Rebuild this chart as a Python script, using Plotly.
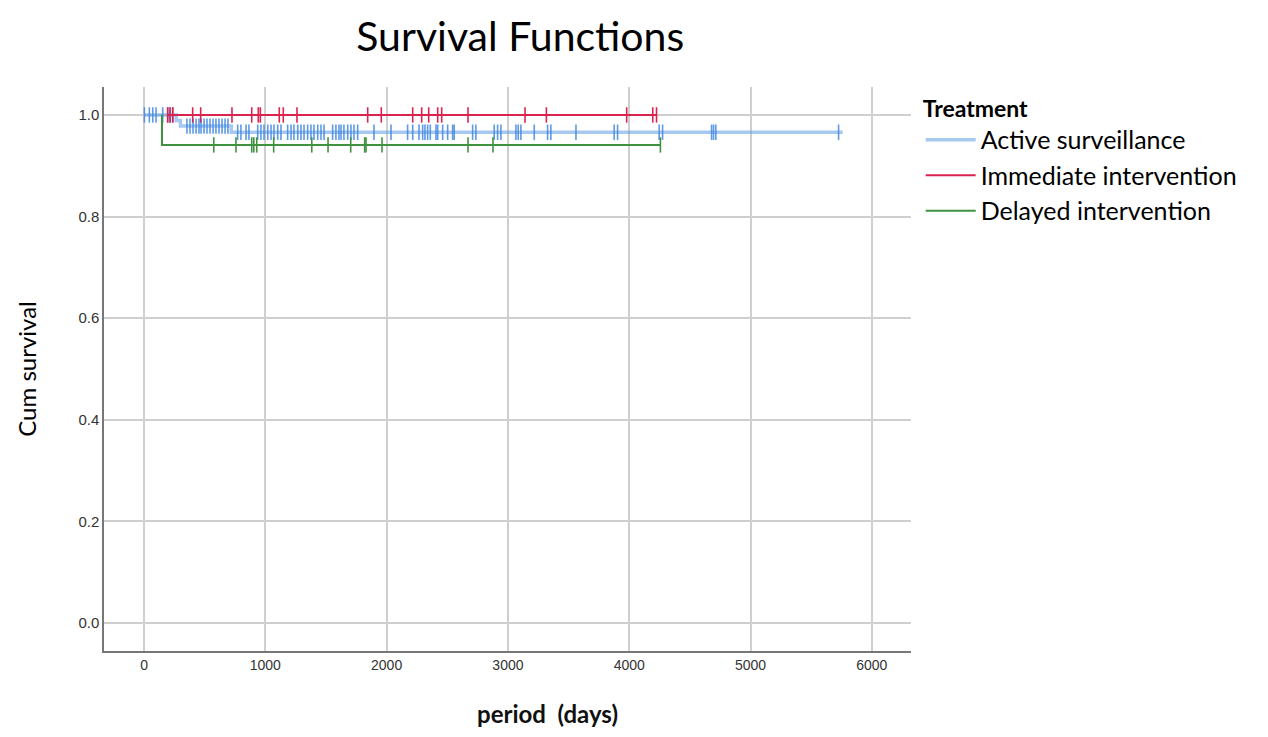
import numpy as np
import plotly.graph_objects as go

# Kaplan-Meier survival by treatment
groups = ["Active surveillance", "Immediate intervention", "Delayed intervention"]
colors = ["rgba(95,155,228,0.55)", "#dc2350", "#3f923f"]
tick_colors = ["rgba(65,135,225,0.85)", "#dc2350", "#3f923f"]

# Active surveillance
as_start = 0
as_end = 5760
as_event_days = [265, 300, 720]
as_surv = [0.989, 0.978, 0.966]
as_censor_days = [3, 44, 72, 99, 154, 195, 217, 237,
                  354, 379, 404, 429, 453, 470, 495, 519, 544, 569, 593, 618, 643, 668, 692,
                  772, 799, 841, 865, 937, 964, 989, 1020, 1047, 1071, 1102, 1129,
                  1184, 1212, 1236, 1267, 1294, 1319, 1349, 1376, 1401, 1432, 1459, 1484,
                  1555, 1582, 1607, 1624, 1648, 1679, 1706, 1731, 1761, 1896, 2036, 2173, 2215, 2267,
                  2297, 2316, 2338, 2360, 2407, 2421, 2462, 2503, 2544, 2557, 2709, 2736,
                  2887, 2915, 2942, 3066, 3085, 3107, 3217, 3327, 3354, 3561, 3876, 3904,
                  4247, 4275, 4679, 4695, 4714, 5726]

# Immediate intervention
ii_start = 195
ii_end = 4230
ii_event_days = []
ii_surv = []
ii_censor_days = [195, 214, 237, 401, 467, 725, 888, 942, 959, 1115, 1148, 1261,
                  1844, 1956, 2215, 2289, 2347, 2421, 2454, 2671, 3141, 3317, 3979, 4194, 4225]

# Delayed intervention
di_start = 148
di_end = 4262
di_event_days = [148]
di_surv = [0.941]
di_censor_days = [575, 758, 888, 905, 929, 1069, 1383, 1517, 1704, 1819, 1830,
                  1962, 2671, 2877, 4257]

x_ticks = [0, 1000, 2000, 3000, 4000, 5000, 6000]
y_ticks = [0.0, 0.2, 0.4, 0.6, 0.8, 1.0]


def step_value(t, event_days, surv):
    i = np.searchsorted(event_days, t, side="right")
    return 1.0 if i == 0 else surv[i - 1]


fig = go.Figure()
series = [
    (as_start, as_end, as_event_days, as_surv, as_censor_days),
    (ii_start, ii_end, ii_event_days, ii_surv, ii_censor_days),
    (di_start, di_end, di_event_days, di_surv, di_censor_days),
]
for k, (start, end, ev, sv, cens) in enumerate(series):
    xs = [start] + list(ev) + [end]
    ys = [1.0] + list(sv) + [sv[-1] if sv else 1.0]
    width = 3.5 if k == 0 else 2
    fig.add_trace(go.Scatter(x=xs, y=ys, mode="lines", line_shape="hv",
                             line=dict(color=colors[k], width=width),
                             name=groups[k], legendgroup=groups[k]))
    cy = [step_value(t, ev, sv) for t in cens]
    fig.add_trace(go.Scatter(x=cens, y=cy, mode="markers", showlegend=False,
                             legendgroup=groups[k], hoverinfo="skip",
                             marker=dict(symbol="line-ns-open", size=11, color=tick_colors[k],
                                         line=dict(color=tick_colors[k], width=1.6))))

fig.update_layout(
    width=1268, height=737,
    margin=dict(l=96, r=365, t=79, b=94),
    plot_bgcolor="white", paper_bgcolor="white",
    title=dict(text="Survival Functions", x=0.404, xref="container", xanchor="center",
               y=0.961, yref="container", yanchor="middle",
               font=dict(family="Lato, Open Sans, sans-serif", size=41, color="black")),
    legend=dict(x=1.012, y=1.0, xanchor="left", yanchor="top",
                title=dict(text="<b>Treatment</b>",
                           font=dict(family="Lato, Open Sans, sans-serif", size=23, color="black")),
                font=dict(family="Lato, Open Sans, sans-serif", size=25, color="black"),
                itemwidth=50, tracegroupgap=0),
    showlegend=True,
)
fig.update_xaxes(range=[-330, 6323], tickvals=x_ticks, showgrid=True,
                 gridcolor="#cfcfcf", gridwidth=2, showline=True, linecolor="#777",
                 linewidth=1.5, zeroline=False, ticks="", ticklen=0,
                 tickfont=dict(family="Liberation Sans Narrow, Liberation Sans, sans-serif",
                               size=14, color="#333"))
fig.update_yaxes(range=[-0.055, 1.055], tickvals=y_ticks, tickformat=".1f", showgrid=True,
                 gridcolor="#cfcfcf", gridwidth=2, showline=True, linecolor="#777",
                 linewidth=1.5, zeroline=False, ticks="",
                 tickfont=dict(family="Liberation Sans Narrow, Liberation Sans, sans-serif",
                               size=15, color="#333"))
fig.add_annotation(text="<b>period\u00a0 (days)</b>", x=0.55, y=-0.11, xref="paper", yref="paper",
                   showarrow=False, xanchor="center", yanchor="middle",
                   font=dict(family="Lato, Open Sans, sans-serif", size=24, color="#111"))
fig.add_annotation(text="Cum survival", x=-0.097, y=0.5, xref="paper", yref="paper",
                   showarrow=False, textangle=-90, xanchor="center", yanchor="middle",
                   font=dict(family="Lato, Open Sans, sans-serif", size=24, color="black"))

fig.write_html("out.html")
